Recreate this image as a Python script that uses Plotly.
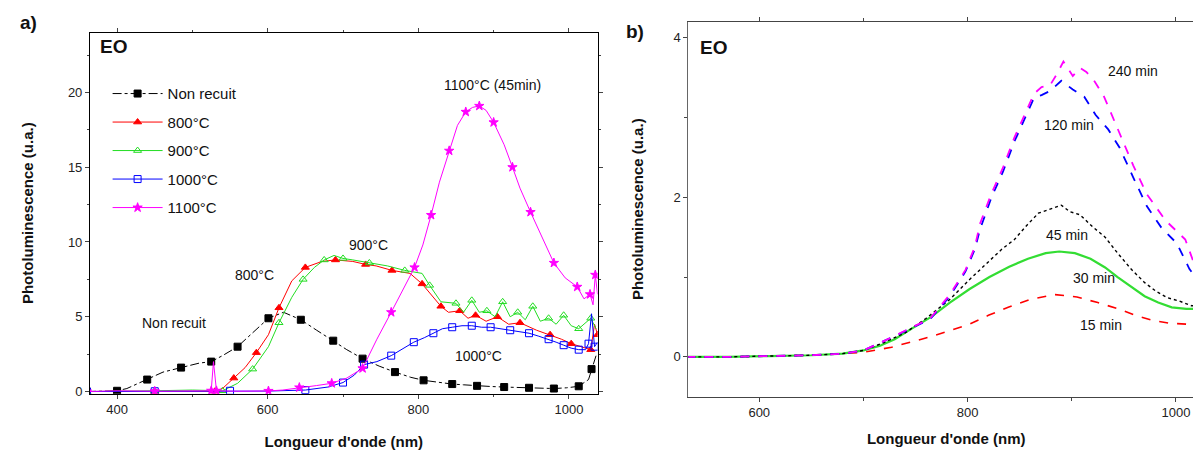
import plotly.graph_objects as go

# ---------------- Panel a) data ----------------
nr_x = [360, 380, 400, 413, 440, 461, 485, 509, 525, 540, 560, 580, 601, 621, 644, 665, 687, 705, 726, 748, 769, 790, 807, 825, 845, 860, 878, 895, 914, 930, 947, 965, 980, 997, 1013, 1026, 1030, 1036]
nr_y = [0, 0, 0.05, 0.2, 0.8, 1.3, 1.6, 1.9, 2.0, 2.4, 3.0, 3.9, 4.9, 5.3, 4.8, 4.1, 3.4, 2.8, 2.2, 1.7, 1.3, 0.95, 0.75, 0.62, 0.5, 0.45, 0.38, 0.34, 0.3, 0.28, 0.25, 0.22, 0.2, 0.25, 0.35, 0.8, 1.5, 2.4]

t800_x = [360, 400, 450, 500, 530, 540, 555, 570, 585, 601, 615, 632, 650, 672, 690, 713, 730, 744, 765, 789, 805, 818, 830, 840, 855, 866, 876, 890, 905, 920, 935, 957, 975, 990, 1003, 1015, 1029, 1034, 1038]
t800_y = [0, 0, 0, 0, 0.02, 0.2, 0.9, 1.6, 2.6, 3.8, 5.6, 7.4, 8.3, 8.7, 8.8, 8.7, 8.5, 8.4, 8.1, 7.9, 7.2, 6.4, 5.7, 5.3, 5.4, 4.9, 5.1, 4.7, 5.0, 4.5, 4.6, 4.1, 3.8, 3.5, 3.2, 3.0, 2.8, 4.5, 3.8]

t900_x = [360, 400, 450, 500, 540, 560, 580, 601, 615, 632, 647, 662, 675, 688, 700, 713, 735, 759, 782, 805, 815, 830, 850, 860, 871, 881, 891, 902, 912, 922, 932, 942, 952, 962, 973, 983, 993, 1003, 1013, 1022, 1029, 1036]
t900_y = [0, 0, 0.05, 0.1, 0.05, 0.55, 1.5, 3.0, 4.6, 6.3, 7.5, 8.3, 8.8, 9.1, 8.9, 8.8, 8.6, 8.4, 8.1, 7.9, 7.1, 6.0, 5.9, 5.3, 6.1, 5.3, 5.4, 5.0, 6.0, 5.0, 5.3, 4.8, 5.7, 4.7, 4.9, 4.5, 5.1, 4.4, 4.2, 4.6, 4.9, 4.2]

t1000_x = [360, 400, 450, 500, 550, 600, 650, 680, 700, 715, 728, 745, 764, 780, 794, 808, 820, 832, 845, 858, 871, 884, 896, 909, 922, 935, 947, 960, 973, 983, 993, 1003, 1013, 1022, 1026, 1030, 1034, 1038]
t1000_y = [0, 0, 0.02, 0.05, 0.05, 0.03, 0.1, 0.3, 0.6, 1.1, 1.8, 2.0, 2.4, 2.9, 3.3, 3.6, 3.9, 4.2, 4.3, 4.4, 4.4, 4.3, 4.3, 4.2, 4.1, 4.0, 3.9, 3.7, 3.5, 3.3, 3.1, 2.9, 2.8, 2.8, 3.2, 5.2, 3.0, 3.3]

t1100_x = [360, 400, 450, 500, 525, 528, 532, 560, 601, 620, 642, 665, 685, 705, 726, 745, 764, 780, 795, 806, 817, 828, 841, 852, 863, 872, 881, 890, 900, 914, 925, 935, 949, 965, 980, 995, 1011, 1020, 1028, 1032, 1035, 1038]
t1100_y = [0, 0.05, 0.02, 0.03, 0.05, 2.0, 0.05, 0.02, 0.04, 0.1, 0.27, 0.4, 0.55, 0.9, 1.55, 3.5, 5.3, 6.8, 8.3, 9.8, 11.8, 14.0, 16.1, 17.8, 18.7, 19.0, 19.1, 18.8, 18.0, 16.5, 15.0, 13.6, 12.0, 10.2, 8.6, 7.6, 7.0, 6.2, 6.5, 5.8, 7.8, 6.5]

a_names = ["Non recuit", "800°C", "900°C", "1000°C", "1100°C"]
a_x = [nr_x, t800_x, t900_x, t1000_x, t1100_x]
a_y = [nr_y, t800_y, t900_y, t1000_y, t1100_y]

a_labels = ["Non recuit", "800°C", "900°C", "1000°C", "1100°C (45min)"]
a_lab_x = [476, 582, 734, 880, 899]
a_lab_y = [4.6, 7.8, 9.8, 2.4, 20.5]

# ---------------- Panel b) data ----------------
m15_x = [530, 570, 610, 650, 680, 701, 727, 745, 764, 783, 802, 820, 839, 860, 884, 905, 925, 945, 963, 980, 995, 1010, 1027]
m15_y = [0, 0, 0.01, 0.02, 0.04, 0.06, 0.12, 0.18, 0.25, 0.33, 0.41, 0.52, 0.62, 0.72, 0.78, 0.75, 0.68, 0.6, 0.51, 0.45, 0.42, 0.41, 0.45]

m30_x = [530, 570, 610, 650, 680, 700, 716, 730, 746, 765, 783, 802, 821, 840, 858, 875, 888, 903, 918, 932, 944, 957, 970, 983, 996, 1010, 1027]
m30_y = [0, 0, 0.01, 0.02, 0.04, 0.08, 0.14, 0.22, 0.35, 0.5, 0.68, 0.85, 1.0, 1.13, 1.23, 1.3, 1.32, 1.3, 1.23, 1.12, 1.0, 0.88, 0.76, 0.68, 0.62, 0.6, 0.6]

m45_x = [530, 570, 610, 650, 680, 700, 720, 740, 760, 783, 802, 821, 833, 845, 857, 868, 878, 890, 898, 908, 920, 932, 944, 957, 970, 981, 992, 1003, 1015, 1027]
m45_y = [0, 0, 0.01, 0.02, 0.04, 0.08, 0.18, 0.3, 0.48, 0.72, 0.97, 1.21, 1.35, 1.47, 1.65, 1.8, 1.85, 1.9, 1.82, 1.78, 1.63, 1.5, 1.3, 1.1, 0.93, 0.82, 0.74, 0.7, 0.64, 0.65]

m120_x = [530, 570, 610, 650, 680, 700, 720, 745, 764, 783, 798, 807, 812, 823, 834, 845, 857, 864, 871, 879, 890, 901, 912, 923, 935, 946, 959, 972, 986, 1001, 1013, 1020, 1027]
m120_y = [0, 0, 0.01, 0.02, 0.04, 0.08, 0.2, 0.35, 0.47, 0.76, 1.07, 1.35, 1.6, 2.0, 2.32, 2.7, 3.05, 3.25, 3.28, 3.33, 3.46, 3.35, 3.26, 3.03, 2.85, 2.62, 2.25, 1.89, 1.62, 1.42, 1.1, 0.98, 0.95]

m240_x = [530, 570, 610, 650, 680, 700, 720, 745, 764, 783, 798, 807, 812, 823, 834, 845, 857, 864, 871, 879, 886, 892, 901, 908, 914, 922, 931, 946, 959, 972, 990, 1009, 1018, 1027]
m240_y = [0, 0, 0.01, 0.02, 0.04, 0.08, 0.2, 0.36, 0.48, 0.78, 1.09, 1.38, 1.67, 2.05, 2.37, 2.75, 3.1, 3.3, 3.38, 3.4, 3.55, 3.7, 3.52, 3.62, 3.57, 3.45, 3.26, 2.79, 2.4, 2.04, 1.71, 1.47, 1.15, 1.12]

b_names = ["15 min", "30 min", "45 min", "120 min", "240 min"]
b_x = [m15_x, m30_x, m45_x, m120_x, m240_x]
b_y = [m15_y, m30_y, m45_y, m120_y, m240_y]
b_lab_x = [928, 921, 895, 897, 959]
b_lab_y = [0.40, 0.99, 1.53, 2.90, 3.58]

# ---------------- Styles ----------------
a_colors = ["#000000", "#ff0000", "#22dd22", "#0000ff", "#ff00ff"]
a_symbols = ["square", "triangle-up", "triangle-up-open", "square-open", "star"]
a_dash = ["dashdot", "solid", "solid", "solid", "solid"]
b_colors = ["#ff0000", "#33dd33", "#000000", "#0000ff", "#ff00ff"]
b_dash = ["dash", "solid", "dot", "dash", "dash"]
b_width = [1.6, 2.2, 1.4, 1.8, 1.8]

FONT = "Liberation Sans, Arial, sans-serif"
CLEAR = "rgba(0,0,0,0)"

fig = go.Figure()

for i in range(len(a_names)):
    n = len(a_x[i])
    cols = [a_colors[i] if (k % 2 == 0) else CLEAR for k in range(n)]
    fig.add_trace(go.Scatter(
        x=a_x[i], y=a_y[i], name=a_names[i], mode="lines+markers",
        xaxis="x", yaxis="y", legendgroup=a_names[i],
        line=dict(color=a_colors[i], width=1, dash=a_dash[i]),
        marker=dict(color=cols, symbol=a_symbols[i], size=7,
                    line=dict(color=cols, width=1)),
    ))

for i in range(len(b_names)):
    fig.add_trace(go.Scatter(
        x=b_x[i], y=b_y[i], name=b_names[i], mode="lines",
        xaxis="x2", yaxis="y2", showlegend=False,
        line=dict(color=b_colors[i], width=b_width[i], dash=b_dash[i]),
    ))

ann = []
for t, x, y in zip(a_labels, a_lab_x, a_lab_y):
    ann.append(dict(text=t, x=x, y=y, xref="x", yref="y", showarrow=False,
                    font=dict(size=14, color="#111", family=FONT)))
for t, x, y in zip(b_names, b_lab_x, b_lab_y):
    ann.append(dict(text=t, x=x, y=y, xref="x2", yref="y2", showarrow=False,
                    font=dict(size=14, color="#111", family=FONT)))
ann.append(dict(text="<b>EO</b>", x=0.075, y=0.943, xref="paper", yref="paper",
                xanchor="left", yanchor="top", showarrow=False,
                font=dict(size=19, color="#111", family=FONT)))
ann.append(dict(text="<b>EO</b>", x=0.575, y=0.94, xref="paper", yref="paper",
                xanchor="left", yanchor="top", showarrow=False,
                font=dict(size=19, color="#111", family=FONT)))
ann.append(dict(text="<b>a)</b>", x=0.008, y=0.995, xref="paper", yref="paper",
                xanchor="left", yanchor="top", showarrow=False,
                font=dict(size=19, color="#111", family=FONT)))
ann.append(dict(text="<b>b)</b>", x=0.513, y=0.975, xref="paper", yref="paper",
                xanchor="left", yanchor="top", showarrow=False,
                font=dict(size=19, color="#111", family=FONT)))

axis_common = dict(showgrid=False, zeroline=False, ticks="outside", ticklen=4,
                   tickfont=dict(size=13, color="#222", family=FONT),
                   title_font=dict(size=15, color="#111", family=FONT),
                   showline=True, linewidth=1)

fig.update_layout(
    width=1201, height=461,
    margin=dict(l=0, r=0, t=0, b=0),
    paper_bgcolor="white", plot_bgcolor="white",
    annotations=ann,
    showlegend=True,
    legend=dict(x=0.083, y=0.848, xanchor="left", yanchor="top",
                bgcolor="rgba(0,0,0,0)", tracegroupgap=6, itemwidth=50,
                font=dict(size=15, color="#111", family=FONT)),
    xaxis=dict(domain=[0.0683, 0.4913], range=[364, 1038],
               tickvals=[400, 600, 800, 1000], linecolor="#000", mirror="ticks",
               minor=dict(dtick=100, tick0=400, ticks="outside", ticklen=2),
               title=dict(text="<b>Longueur d'onde (nm)</b>", standoff=20),
               anchor="y", **axis_common),
    yaxis=dict(domain=[0.154, 0.946], range=[-0.15, 24.0],
               tickvals=[0, 5, 10, 15, 20], linecolor="#000", mirror="ticks",
               minor=dict(dtick=2.5, tick0=0, ticks="outside", ticklen=2),
               title=dict(text="<b>Photoluminescence (u.a.)</b>", standoff=30),
               anchor="x", **axis_common),
    xaxis2=dict(domain=[0.567, 0.9967], range=[532, 1027],
                tickvals=[600, 800, 1000], linecolor="#444", mirror="allticks",
                minor=dict(dtick=100, tick0=600, ticks="outside", ticklen=3),
                title=dict(text="<b>Longueur d'onde (nm)</b>", standoff=14),
                anchor="y2", **axis_common),
    yaxis2=dict(domain=[0.1475, 0.970], range=[-0.5, 4.2],
                tickvals=[0, 2, 4], linecolor="#666", mirror="allticks",
                minor=dict(dtick=1, tick0=0, ticks="outside", ticklen=3),
                title=dict(text="<b>Photoluminescence (u.a.)</b>", standoff=26),
                anchor="x2", **axis_common),
)

fig.write_html("out.html")
